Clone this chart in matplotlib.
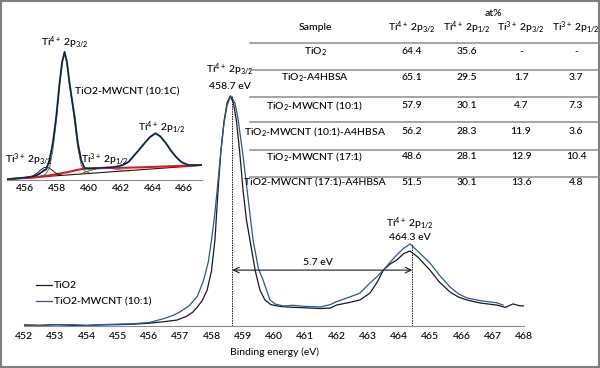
#!/usr/bin/env python3

import matplotlib.pyplot as plt
from matplotlib.lines import Line2D
from matplotlib.patches import Rectangle

plt.rcParams['font.family'] = ['Lato', 'DejaVu Sans']
plt.rcParams['font.weight'] = 'medium'
plt.rcParams['mathtext.fontset'] = 'custom'
plt.rcParams['mathtext.rm'] = 'Lato:medium'
plt.rcParams['mathtext.it'] = 'Lato:italic'
plt.rcParams['mathtext.bf'] = 'Lato:bold'

# Main spectra (binding energy in eV, intensity in arbitrary units)
tio2_energy = [452.0, 452.5, 453.0, 453.5, 454.0, 454.5, 455.0, 455.5, 456.0, 456.5,
               456.9, 457.2, 457.4, 457.55, 457.7, 457.86, 458.0, 458.11, 458.21, 458.3,
               458.4, 458.5, 458.6, 458.7, 458.8, 458.9, 459.01, 459.12, 459.23, 459.4,
               459.55, 459.71, 459.9, 460.2, 460.5, 461.0, 461.5, 461.8, 462.0, 462.4,
               462.75, 463.07, 463.3, 463.5, 463.7, 463.93, 464.15, 464.35, 464.6, 464.99,
               465.3, 465.63, 465.9, 466.17, 466.6, 467.13, 467.4, 467.65, 467.85, 468.0]
tio2_counts = [0.4, 0.3, 0.6, 0.3, 0.2, 0.5, 0.6, 0.8, 1.2, 1.9,
               2.6, 4.2, 6.0, 8.3, 11.0, 15.6, 24.0, 37.4, 59.0, 76.0,
               89.0, 97.0, 100.0, 97.0, 89.0, 76.0, 59.0, 46.0, 37.4, 24.0,
               15.6, 11.3, 9.3, 8.5, 8.2, 7.9, 7.6, 7.8, 9.1, 10.2,
               11.3, 14.3, 19.0, 24.3, 26.8, 28.7, 31.5, 32.6, 30.0, 24.3,
               19.0, 14.8, 12.6, 11.3, 10.0, 9.1, 8.1, 9.6, 8.8, 8.7]

mwcnt_energy = [452.0, 452.5, 453.0, 453.5, 454.0, 454.5, 455.0, 455.5, 456.0, 456.5,
                456.8, 457.0, 457.3, 457.55, 457.75, 457.9, 458.0, 458.1, 458.18, 458.3,
                458.4, 458.5, 458.62, 458.75, 458.85, 459.0, 459.14, 459.33, 459.5, 459.65,
                459.87, 460.05, 460.3, 460.6, 461.0, 461.5, 461.8, 462.0, 462.4, 462.75,
                463.07, 463.3, 463.5, 463.7, 463.93, 464.15, 464.35, 464.6, 464.99, 465.3,
                465.63, 465.9, 466.17, 466.6, 467.13, 467.33]
mwcnt_counts = [0.5, 0.2, 0.5, 0.6, 0.3, 0.6, 0.8, 1.0, 1.5, 3.3,
                4.8, 6.2, 9.0, 13.0, 20.0, 28.0, 37.4, 48.0, 59.0, 76.0,
                88.0, 96.0, 100.0, 97.0, 90.0, 75.0, 59.0, 37.4, 25.0, 20.0,
                11.3, 9.5, 8.7, 9.0, 8.5, 8.3, 9.3, 10.6, 12.5, 14.3,
                18.7, 21.5, 24.3, 27.5, 30.9, 33.8, 35.7, 32.5, 27.4, 22.0,
                17.0, 14.0, 12.2, 11.0, 10.1, 9.1]

x_ticks = list(range(452, 469))

# Peak positions marked on the main chart
peak_32 = 458.67
peak_32_height = 100.0
peak_12 = 464.42
peak_12_height = 35.7

# Inset: fitted spectrum of TiO2-MWCNT (10:1C)
fit_energy = [454.9, 455.5, 456.0, 456.5, 456.8, 457.0, 457.2, 457.36, 457.56, 457.77,
              457.98, 458.19, 458.35, 458.5, 458.65, 458.81, 458.97, 459.13, 459.33, 459.54,
              459.75, 460.0, 460.5, 461.0, 461.5, 461.8, 462.14, 462.5, 462.77, 463.1,
              463.5, 463.85, 464.19, 464.5, 464.85, 465.15, 465.48, 465.8, 466.2, 466.6,
              467.06]
fit_envelope = [0.7, 1.6, 2.4, 3.4, 5.0, 7.0, 9.5, 10.8, 20.0, 37.0,
                63.0, 97.0, 118.0, 128.0, 118.0, 97.0, 80.0, 63.0, 37.0, 20.0,
                12.0, 11.5, 11.8, 12.3, 12.8, 13.5, 15.0, 18.0, 23.0, 29.0,
                36.7, 43.0, 46.7, 43.5, 36.7, 29.5, 23.0, 18.0, 15.2, 14.8,
                15.0]

ti4_32_energy = [457.0, 457.3, 457.56, 457.77, 457.98, 458.19, 458.35, 458.5, 458.65, 458.81,
                 458.97, 459.13, 459.33, 459.54, 459.75, 460.0]
ti4_32_counts = [4.0, 5.5, 12.0, 30.0, 58.0, 95.0, 117.0, 127.0, 117.0, 95.0,
                 77.0, 58.0, 32.0, 15.0, 9.0, 7.5]

ti3_32_energy = [456.2, 456.5, 456.8, 457.0, 457.2, 457.35, 457.5, 457.7, 457.9, 458.1, 458.3]
ti3_32_counts = [3.0, 4.0, 7.0, 10.0, 12.2, 12.7, 12.2, 10.2, 7.5, 5.5, 5.0]

ti3_12_energy = [459.5, 460.0, 460.5, 461.0, 461.5, 462.0, 462.5]
ti3_12_counts = [6.0, 9.0, 11.2, 12.0, 11.5, 10.0, 9.0]

shirley_energy = [454.9, 455.5, 456.0, 456.5, 457.0, 457.5, 458.0, 458.5, 459.0, 459.3,
                  459.7, 460.2, 460.7, 461.5, 462.4, 463.5, 464.4, 465.5, 466.9]
shirley_counts = [0.7, 1.4, 2.0, 2.4, 3.3, 4.5, 5.8, 7.3, 9.0, 10.2,
                  11.2, 11.7, 11.9, 12.1, 12.3, 12.8, 13.3, 14.0, 15.0]

linear_energy = [454.9, 467.06]
linear_counts = [0.7, 14.6]

inset_ticks = [456, 458, 460, 462, 464, 466]

# Table of at% values
table_samples = [r'TiO$_\mathrm{2}$', r'TiO$_\mathrm{2}$-A4HBSA', r'TiO$_\mathrm{2}$-MWCNT (10:1)',
                 r'TiO$_\mathrm{2}$-MWCNT (10:1)-A4HBSA', r'TiO$_\mathrm{2}$-MWCNT (17:1)',
                 'TiO2-MWCNT (17:1)-A4HBSA']
ti4_32_at = ['64.4', '65.1', '57.9', '56.2', '48.6', '51.5']
ti4_12_at = ['35.6', '29.5', '30.1', '28.3', '28.1', '30.1']
ti3_32_at = ['-', '1.7', '4.7', '11.9', '12.9', '13.6']
ti3_12_at = ['-', '3.7', '7.3', '3.6', '10.4', '4.8']
table_headers = [r'Ti$^\mathrm{4+}$ 2p$_\mathrm{3/2}$', r'Ti$^\mathrm{4+}$ 2p$_\mathrm{1/2}$',
                 r'Ti$^\mathrm{3+}$ 2p$_\mathrm{3/2}$', r'Ti$^\mathrm{3+}$ 2p$_\mathrm{1/2}$']

W, H = 600, 368
BLUE = '#2b5797'
BLACK = '#1a1a1a'
GRID = '#8c8c8c'


def fx(px):
    return px / W


def fy(py):
    return 1 - py / H


def draw_main(fig):
    ax = fig.add_axes([fx(24), fy(326), 500 / W, 276 / H])
    ax.patch.set_alpha(0)
    ax.plot(tio2_energy, tio2_counts, color=BLACK, lw=0.9, label='TiO2')
    ax.plot(mwcnt_energy, mwcnt_counts, color=BLUE, lw=0.9, label='TiO2-MWCNT (10:1)')
    ax.set_xlim(452, 468)
    ax.set_ylim(0, 120)
    ax.set_xticks(x_ticks)
    ax.set_yticks([])
    for s in ['top', 'right', 'left']:
        ax.spines[s].set_visible(False)
    ax.spines['bottom'].set_color(GRID)
    ax.tick_params(axis='x', length=0, pad=4, labelsize=7.5)
    ax.set_xlabel('Binding energy (eV)', fontsize=7.5, labelpad=5)

    # dotted markers and the splitting arrow
    ax.plot([peak_32, peak_32], [0, peak_32_height], color=BLACK, lw=0.7, ls=(0, (1.5, 1)))
    ax.plot([peak_12, peak_12], [0, peak_12_height], color=BLACK, lw=0.7, ls=(0, (1.5, 1)))
    ax.annotate('', xy=(peak_32, 24.3), xytext=(peak_12, 24.3),
                arrowprops=dict(arrowstyle='<->', color=BLACK, lw=0.8, shrinkA=0, shrinkB=0))
    ax.text(461.4, 27.8, '5.7 eV', fontsize=7.5, ha='center', va='center')

    ax.text(458.6, 111.3, r'Ti$^\mathrm{4+}$ 2p$_\mathrm{3/2}$', fontsize=7.5, ha='center', va='center')
    ax.text(458.6, 104.0, '458.7 eV', fontsize=7.5, ha='center', va='center')
    ax.text(464.35, 44.5, r'Ti$^\mathrm{4+}$ 2p$_\mathrm{1/2}$', fontsize=7.5, ha='center', va='center')
    ax.text(464.35, 38.5, '464.3 eV', fontsize=7.5, ha='center', va='center')

    ax.legend(loc='upper left', bbox_to_anchor=(fx(36), fy(281)), bbox_transform=fig.transFigure,
              frameon=False, fontsize=7.5, handlelength=1.5, handletextpad=0.2,
              labelspacing=0.7, borderpad=0, borderaxespad=0)


def draw_inset(fig):
    ax = fig.add_axes([fx(7), fy(180), 195 / W, 145 / H])
    ax.patch.set_alpha(0)
    ax.plot(linear_energy, linear_counts, color=BLACK, lw=0.8)
    ax.plot(ti3_12_energy, ti3_12_counts, color='#4d5a2a', lw=0.6)
    ax.plot(shirley_energy, shirley_counts, color='#e8141a', lw=1.5)
    ax.plot(ti3_32_energy, ti3_32_counts, color=BLACK, lw=0.7)
    ax.plot(ti4_32_energy, ti4_32_counts, color='#4d5a2a', lw=0.6)
    ax.plot(fit_energy, fit_envelope, color=BLUE, lw=1.4)
    ax.plot(fit_energy, fit_envelope, color=BLACK, lw=0.8)
    ax.set_xlim(454.9, 467.1)
    ax.set_ylim(0, 145)
    ax.set_xticks(inset_ticks)
    ax.set_yticks([])
    for s in ['top', 'right', 'left']:
        ax.spines[s].set_visible(False)
    ax.spines['bottom'].set_color(GRID)
    ax.tick_params(axis='x', length=0, pad=3, labelsize=7.5)

    ax.text(458.5, 137, r'Ti$^\mathrm{4+}$ 2p$_\mathrm{3/2}$', fontsize=7.5, ha='center', va='center')
    ax.text(462.44, 88, 'TiO2-MWCNT (10:1C)', fontsize=7.5, ha='center', va='center')
    ax.text(464.6, 52, r'Ti$^\mathrm{4+}$ 2p$_\mathrm{1/2}$', fontsize=7.5, ha='center', va='center')
    ax.text(456.25, 20, r'Ti$^\mathrm{3+}$ 2p$_\mathrm{3/2}$', fontsize=7.5, ha='center', va='center')
    ax.text(461.0, 20, r'Ti$^\mathrm{3+}$ 2p$_\mathrm{1/2}$', fontsize=7.5, ha='center', va='center')


def draw_table(fig):
    fs = 7.5
    fig.text(fx(493), fy(14), 'at%', fontsize=fs, ha='center', va='center')
    fig.text(fx(315), fy(28), 'Sample', fontsize=fs, ha='center', va='center')
    col_x = [412, 467, 521, 576]
    for x, head in zip(col_x, table_headers):
        fig.text(fx(x), fy(28), head, fontsize=fs, ha='center', va='center')

    for y in [43, 70, 97, 122, 150, 177]:
        fig.add_artist(Line2D([fx(250), fx(600)], [fy(y), fy(y)], color=GRID, lw=1.1))

    row_y = [52, 78, 105, 132, 157, 183]
    for i, y in enumerate(row_y):
        fig.text(fx(315), fy(y), table_samples[i], fontsize=fs, ha='center', va='center')
        values = [ti4_32_at[i], ti4_12_at[i], ti3_32_at[i], ti3_12_at[i]]
        for x, v in zip(col_x, values):
            fig.text(fx(x), fy(y), v, fontsize=fs, ha='center', va='center')


def main():
    fig = plt.figure(figsize=(6, 3.68), dpi=100)
    draw_main(fig)
    draw_inset(fig)
    draw_table(fig)
    # grey frame around the whole picture
    fig.add_artist(Rectangle((0.002, 0.003), 0.996, 0.994, transform=fig.transFigure,
                             fill=False, edgecolor='#7f7f7f', lw=1.5))
    plt.savefig('out.png', dpi=100)


if __name__ == "__main__":
    main()
